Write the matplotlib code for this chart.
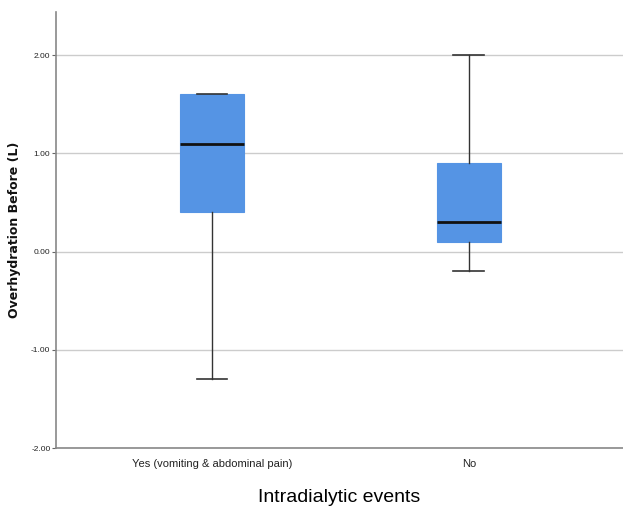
import matplotlib
matplotlib.use("Agg")
from matplotlib import pyplot as plt

groups = ["Yes (vomiting & abdominal pain)", "No"]
whislo = [-1.30, -0.20]
q1 = [0.40, 0.10]
med = [1.10, 0.30]
q3 = [1.60, 0.90]
whishi = [1.60, 2.00]
yticks = [-2.0, -1.0, 0.0, 1.0, 2.0]

plt.rcParams["font.family"] = ["Liberation Sans", "DejaVu Sans"]

fig = plt.figure(figsize=(6.23, 5.13), dpi=100)
ax = fig.add_axes([0.0899, 0.1267, 0.9101, 0.85])

stats = []
for i in range(len(groups)):
    stats.append(dict(label=groups[i], whislo=whislo[i], q1=q1[i], med=med[i],
                      q3=q3[i], whishi=whishi[i], fliers=[]))

ax.bxp(stats, positions=[1, 2], widths=0.25, patch_artist=True, showfliers=False,
       boxprops=dict(facecolor="#5594e4", edgecolor="#5594e4", lw=0.8),
       medianprops=dict(color="#111111", lw=2),
       whiskerprops=dict(color="#333333", lw=1),
       capprops=dict(color="#333333", lw=1.2), capwidths=0.12,
       zorder=3)

ax.set_xlim(0.393, 2.6)
ax.set_ylim(-2.0, 2.44)
ax.set_yticks(yticks)
ax.set_yticklabels([f"{t:.2f}" for t in yticks], fontsize=6, color="#222222")
ax.set_xticklabels(groups, fontsize=8, color="#222222")
ax.yaxis.grid(True, color="#cccccc", lw=1)
ax.set_axisbelow(True)

for s in ["top", "right"]:
    ax.spines[s].set_visible(False)
for s in ["left", "bottom"]:
    ax.spines[s].set_color("#888888")
    ax.spines[s].set_linewidth(1.2)
ax.tick_params(axis="y", length=3, width=0.8, color="#666666", pad=1)
ax.tick_params(axis="x", length=0, pad=8)

ax.set_ylabel("Overhydration Before (L)", fontsize=9, fontweight="bold",
              family="DejaVu Sans", color="#111111")
ax.yaxis.set_label_coords(-0.062, 0.5)
ax.set_xlabel("Intradialytic events", fontsize=14, labelpad=14)

plt.savefig("out.png", dpi=100)
